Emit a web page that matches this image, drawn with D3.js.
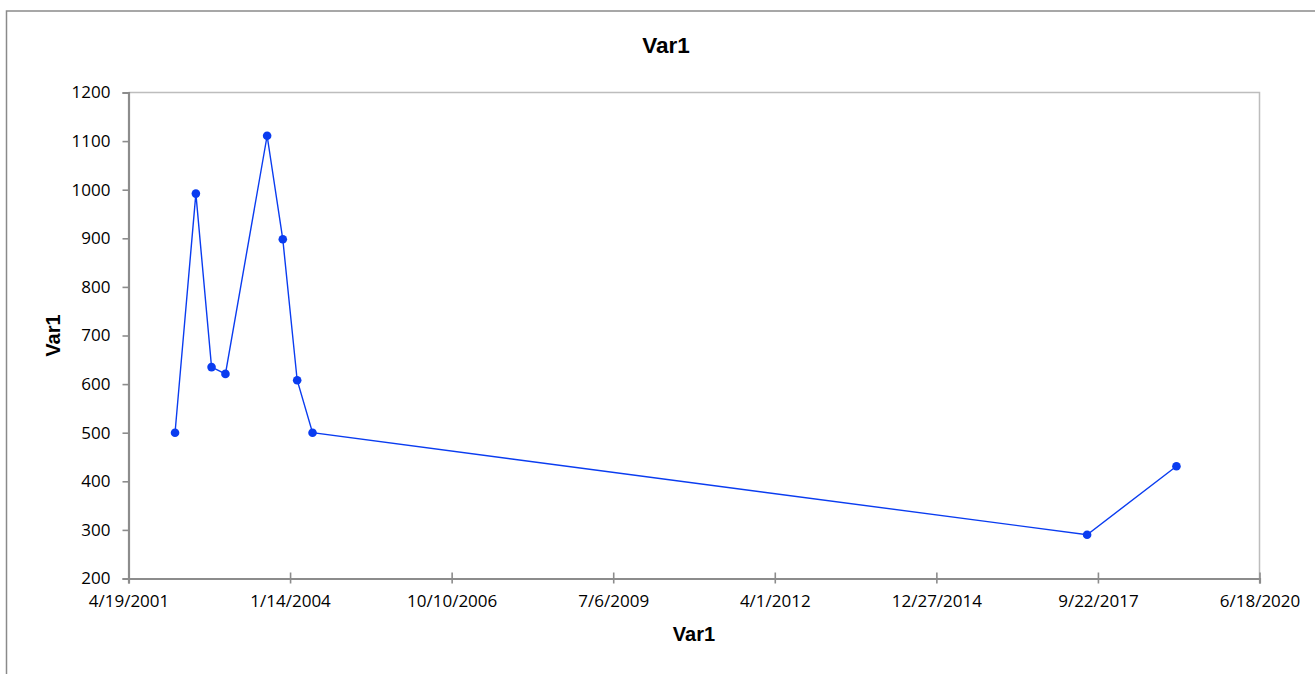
<!DOCTYPE html>
<html>
<head>
<meta charset="utf-8">
<script src="https://cdn.jsdelivr.net/npm/d3@7/dist/d3.min.js"></script>
<style>
  html, body { margin: 0; padding: 0; background: #fff; overflow: hidden; }
  svg { display: block; }
</style>
</head>
<body>
<svg id="chart" width="1315" height="674"></svg>
<script>
// Observation dates and values for Var1
const dates = [
  "2002-02-01", "2002-06-10", "2002-09-15", "2002-12-10", "2003-08-25",
  "2003-11-30", "2004-02-27", "2004-06-01", "2017-07-17", "2019-01-21"
];
const values = [500, 992, 635, 621, 1111, 898, 608, 500, 290, 431];

// Axis tick labels (dates spaced 1000 days apart) and value ticks
const xTickLabels = [
  "4/19/2001", "1/14/2004", "10/10/2006", "7/6/2009",
  "4/1/2012", "12/27/2014", "9/22/2017", "6/18/2020"
];
const yTicks = [200, 300, 400, 500, 600, 700, 800, 900, 1000, 1100, 1200];

const chartTitle = "Var1";
const xTitle = "Var1";
const yTitle = "Var1";

const parseIso = d3.utcParse("%Y-%m-%d");
const parseUs = d3.utcParse("%-m/%-d/%Y");
const fmtUs = d3.utcFormat("%-m/%-d/%Y");

const points = dates.map((d, i) => ({ date: parseIso(d), value: values[i] }));
const xTickDates = xTickLabels.map(parseUs);

const svg = d3.select("#chart");

// Chart frame
svg.append("rect")
  .attr("x", 6.5).attr("y", 11)
  .attr("width", 1325).attr("height", 700)
  .attr("fill", "#fff")
  .attr("stroke", "#8a8a8a")
  .attr("stroke-width", 1.5);

const plot = { left: 128.5, top: 92.5, right: 1259.5, bottom: 578.5 };

const x = d3.scaleUtc()
  .domain([xTickDates[0], xTickDates[xTickDates.length - 1]])
  .range([plot.left, plot.right]);

const y = d3.scaleLinear()
  .domain([yTicks[0], yTicks[yTicks.length - 1]])
  .range([plot.bottom, plot.top]);

// Plot area border (top and right)
svg.append("path")
  .attr("d", `M${plot.left},${plot.top}H${plot.right}V${plot.bottom}`)
  .attr("fill", "none")
  .attr("stroke", "#bdbdbd")
  .attr("stroke-width", 1.5);

const tickFont = "'Open Sans', 'Noto Sans', sans-serif";

// Y axis
const yAxis = svg.append("g")
  .attr("transform", `translate(${plot.left},0)`)
  .call(d3.axisLeft(y).tickValues(yTicks).tickSize(6).tickPadding(12).tickFormat(d3.format("d")));
yAxis.select(".domain").attr("stroke", "#8c8c8c").attr("stroke-width", 2.2);
yAxis.selectAll(".tick line").attr("stroke", "#8c8c8c").attr("stroke-width", 1.6);
yAxis.selectAll("text")
  .attr("fill", "#000")
  .style("font-family", tickFont)
  .style("font-size", "17px");

// X axis (ticks cross the axis line)
const xAxis = svg.append("g")
  .attr("transform", `translate(0,${plot.bottom})`)
  .call(d3.axisBottom(x).tickValues(xTickDates).tickSize(5).tickPadding(11).tickFormat(fmtUs));
xAxis.select(".domain").attr("stroke", "#8c8c8c").attr("stroke-width", 2.2);
xAxis.selectAll(".tick line")
  .attr("y1", -6).attr("y2", 5)
  .attr("stroke", "#8c8c8c").attr("stroke-width", 1.6);
xAxis.selectAll("text")
  .attr("fill", "#000")
  .style("font-family", tickFont)
  .style("font-size", "17px");

// Data line and markers
const line = d3.line().x(d => x(d.date)).y(d => y(d.value));
svg.append("path")
  .datum(points)
  .attr("d", line)
  .attr("fill", "none")
  .attr("stroke", "#0a3cf0")
  .attr("stroke-width", 1.4);

svg.append("g").selectAll("circle")
  .data(points)
  .join("circle")
  .attr("cx", d => x(d.date))
  .attr("cy", d => y(d.value))
  .attr("r", 4.3)
  .attr("fill", "#0a3cf0");

// Titles
const titleFont = "'Liberation Sans', Arial, sans-serif";
svg.append("text")
  .attr("x", 666).attr("y", 53)
  .attr("text-anchor", "middle")
  .style("font-family", titleFont)
  .style("font-weight", "bold")
  .style("font-size", "22.5px")
  .text(chartTitle);

svg.append("text")
  .attr("x", (plot.left + plot.right) / 2).attr("y", 641)
  .attr("text-anchor", "middle")
  .style("font-family", titleFont)
  .style("font-weight", "bold")
  .style("font-size", "20px")
  .text(xTitle);

svg.append("text")
  .attr("transform", `translate(60,${(plot.top + plot.bottom) / 2}) rotate(-90)`)
  .attr("text-anchor", "middle")
  .style("font-family", titleFont)
  .style("font-weight", "bold")
  .style("font-size", "20px")
  .text(yTitle);
</script>
</body>
</html>
